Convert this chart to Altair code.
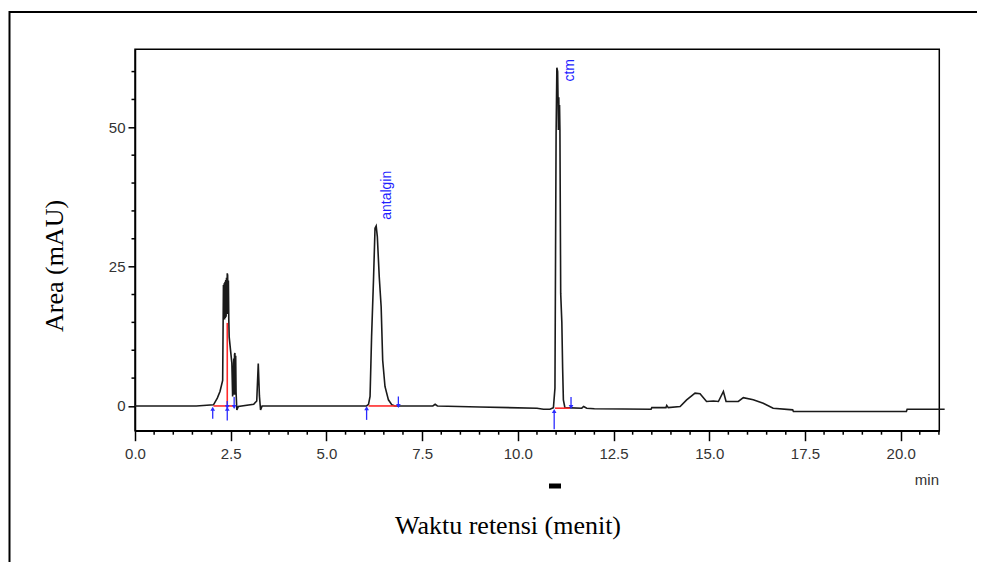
import altair as alt
import pandas as pd

# ---- chromatogram trace (retention time in min, response in mAU) ----
sig_t = [0.0, 1.6, 2.05, 2.15, 2.22, 2.29, 2.31, 2.32, 2.33, 2.34, 2.35, 2.36, 2.37, 2.38,
         2.39, 2.40, 2.41, 2.42, 2.43, 2.44, 2.45, 2.46, 2.53, 2.55, 2.58, 2.59, 2.60, 2.61,
         2.62, 2.63, 2.64, 2.66, 2.70, 3.10, 3.18, 3.22, 3.25, 3.28, 3.32,
         6.05, 6.10, 6.14, 6.18, 6.23, 6.27, 6.30, 6.33, 6.38, 6.43, 6.47, 6.53, 6.62, 6.71, 6.79,
         7.78, 7.84, 7.90, 9.0, 10.5, 10.67, 10.84, 10.93, 10.97, 11.00, 11.02, 11.04, 11.05,
         11.06, 11.07, 11.08, 11.09, 11.10, 11.12, 11.15, 11.17, 11.19, 11.23, 11.67, 11.72,
         11.80, 12.0, 13.48, 13.50, 13.87, 13.89, 13.93, 14.24, 14.41, 14.63, 14.76, 14.93,
         15.11, 15.24, 15.37, 15.44, 15.76, 15.89, 16.15, 16.41, 16.67, 17.18, 17.20, 20.15,
         20.17, 21.15]
sig_y = [0.0, 0.0, 0.2, 1.4, 2.6, 4.6, 21.7, 15.5, 22.0, 15.5, 22.3, 15.8, 22.6, 16.0,
         23.0, 16.5, 23.8, 23.5, 16.5, 22.5, 15.5, 12.4, 7.7, 1.7, 8.5, 2.0, 9.2, 9.5,
         2.0, 9.0, 2.5, -0.7, -0.1, 0.3, 0.9, 7.6, 1.8, -0.7, 0.0,
         0.0, 0.3, 1.7, 12.4, 22.6, 31.9, 32.3, 30.4, 23.2, 17.8, 8.2, 3.5, 1.1, 0.2, 0.0,
         0.0, 0.3, 0.0, -0.2, -0.4, -0.6, -0.6, -0.3, 3.2, 48.9, 60.7, 60.0, 55.4,
         49.5, 55.4, 49.5, 54.0, 49.5, 20.2, 15.0, 7.0, 1.1, -0.3, -0.4, -0.1,
         -0.4, -0.5, -0.6, -0.3, -0.3, 0.1, -0.3, -0.1, 1.1, 2.3, 2.2, 0.8,
         0.9, 0.8, 2.6, 0.8, 0.8, 1.5, 1.1, 0.5, -0.4, -0.7, -1.0, -1.0,
         -0.6, -0.6]

# ---- integration baselines (red) ----
base_t0 = [2.05, 2.41, 6.10, 10.97]
base_t1 = [2.61, 2.41, 6.84, 11.36]
base_y0 = [0.0, 0.0, 0.0, -0.4]
base_y1 = [0.0, 14.9, 0.0, -0.4]

# ---- peak start / end markers (blue arrows: tail value -> head value) ----
arrow_t = [2.03, 2.41, 2.41, 2.59, 6.05, 6.88, 10.95, 11.39]
arrow_tail = [-2.3, 0.9, -2.6, 1.6, -2.5, 1.7, -4.2, 1.6]
arrow_head = [-0.5, -0.2, -0.5, -0.2, -0.4, 0.0, -0.9, -0.2]
arrow_dir = ["up", "down", "up", "down", "up", "down", "up", "down"]

# ---- peak names ----
peak_t = [6.57, 11.36]
peak_y = [33.4, 58.2]
peak_name = ["antalgin", "ctm"]

# ---- axes ----
x_major = [0.0, 2.5, 5.0, 7.5, 10.0, 12.5, 15.0, 17.5, 20.0]
x_minor = [0.5, 1.0, 1.5, 2.0, 3.0, 3.5, 4.0, 4.5, 5.5, 6.0, 6.5, 7.0, 8.0, 8.5, 9.0, 9.5,
           10.5, 11.0, 11.5, 12.0, 13.0, 13.5, 14.0, 14.5, 15.5, 16.0, 16.5, 17.0, 18.0,
           18.5, 19.0, 19.5, 20.5, 21.0]
y_major = [0, 25, 50]
y_minor = [5, 10, 15, 20, 30, 35, 40, 45, 55, 60]
x_domain = [0, 21.01]
y_domain = [-4.44, 64.0]

sig_df = pd.DataFrame({"t": sig_t, "y": sig_y})
base_df = pd.DataFrame({"t0": base_t0, "t1": base_t1, "y0": base_y0, "y1": base_y1})
arrow_df = pd.DataFrame({"t": arrow_t, "tail": arrow_tail, "head": arrow_head, "dir": arrow_dir})
peak_df = pd.DataFrame({"t": peak_t, "y": peak_y, "name": peak_name})
xminor_df = pd.DataFrame({"t": x_minor})
yminor_df = pd.DataFrame({"y": y_minor})
one = pd.DataFrame({"a": [0]})

W, H = 804.3, 381.4
xs = alt.Scale(domain=x_domain, nice=False, zero=False)
ys = alt.Scale(domain=y_domain, nice=False, zero=False)

x_axis = alt.Axis(
    orient="bottom", values=x_major, format=".1f", title=None, grid=False,
    labelOverlap=False, labelFlush=False,
    labelFont="Liberation Sans", labelFontSize=15, labelColor="#333333",
    labelPadding=6, tickSize=10,
    tickColor="black", tickWidth=1.5, domainColor="black", domainWidth=1.5,
)
y_axis = alt.Axis(
    orient="left", values=y_major, format="d", title=None, grid=False,
    labelOverlap=False, labelFlush=False,
    labelFont="Liberation Sans", labelFontSize=15, labelColor="#333333",
    labelPadding=3, tickSize=7,
    tickColor="black", tickWidth=1.5, domainColor="black", domainWidth=1.5,
)

frame = alt.Chart(one).mark_rect(filled=False, stroke="black", strokeWidth=2).encode(
    x=alt.value(-125.5), x2=alt.value(900), y=alt.value(-37.3), y2=alt.value(600)
)

trace = alt.Chart(sig_df).mark_line(color="#1a1a1a", strokeWidth=1.6).encode(
    x=alt.X("t:Q", scale=xs, axis=x_axis),
    y=alt.Y("y:Q", scale=ys, axis=y_axis),
    order="t:Q",
)

xminor = alt.Chart(xminor_df).mark_rule(color="black", strokeWidth=1.5).encode(
    x=alt.X("t:Q", scale=xs, axis=None), y=alt.value(H), y2=alt.value(H + 4)
)
yminor = alt.Chart(yminor_df).mark_rule(color="black", strokeWidth=1.5).encode(
    y=alt.Y("y:Q", scale=ys, axis=None), x=alt.value(0), x2=alt.value(-3.5)
)

baselines = alt.Chart(base_df).mark_rule(color="#ff2a2a", strokeWidth=1.6).encode(
    x=alt.X("t0:Q", scale=xs, axis=None), x2="t1:Q",
    y=alt.Y("y0:Q", scale=ys, axis=None), y2="y1:Q",
)

arrow_shafts = alt.Chart(arrow_df).mark_rule(color="#2b2bff", strokeWidth=1.3).encode(
    x=alt.X("t:Q", scale=xs, axis=None),
    y=alt.Y("tail:Q", scale=ys, axis=None), y2="head:Q",
)
arrow_heads = alt.Chart(arrow_df).mark_point(
    filled=True, color="#2b2bff", size=22, opacity=1
).encode(
    x=alt.X("t:Q", scale=xs, axis=None),
    y=alt.Y("head:Q", scale=ys, axis=None),
    shape=alt.Shape("dir:N", scale=alt.Scale(domain=["up", "down"],
                                             range=["triangle-up", "triangle-down"]),
                    legend=None),
)

names = alt.Chart(peak_df).mark_text(
    font="Liberation Sans", fontSize=14, color="#1f1fff", angle=270,
    align="left", baseline="middle"
).encode(x=alt.X("t:Q", scale=xs, axis=None), y=alt.Y("y:Q", scale=ys, axis=None), text="name:N")

y_title = alt.Chart(one).mark_text(
    font="Liberation Serif", fontSize=26, color="black", angle=270,
    align="center", baseline="middle"
).encode(x=alt.value(-80), y=alt.value(216.7), text=alt.value("Area (mAU)"))

x_title = alt.Chart(one).mark_text(
    font="Liberation Serif", fontSize=26, color="black",
    align="center", baseline="alphabetic"
).encode(x=alt.value(373), y=alt.value(484.7), text=alt.value("Waktu retensi (menit)"))

min_label = alt.Chart(one).mark_text(
    font="Liberation Sans", fontSize=15, color="#333333",
    align="right", baseline="middle"
).encode(x=alt.value(804), y=alt.value(431), text=alt.value("min"))

dash = alt.Chart(one).mark_rule(color="black", strokeWidth=5).encode(
    x=alt.value(414), x2=alt.value(426), y=alt.value(436.7)
)

chart = alt.layer(
    frame, trace, xminor, yminor, baselines, arrow_shafts, arrow_heads, names,
    y_title, x_title, min_label, dash
).resolve_axis(
    x="independent", y="independent"
).properties(
    width=W, height=H,
    autosize=alt.AutoSizeParams(type="none"),
    padding={"left": 127, "top": 41.3, "right": 37.7, "bottom": 131.3},
    background="white",
).configure_view(stroke="black", strokeWidth=1.5)

chart.save("out.html", embed_options={"renderer": "svg", "actions": False})
